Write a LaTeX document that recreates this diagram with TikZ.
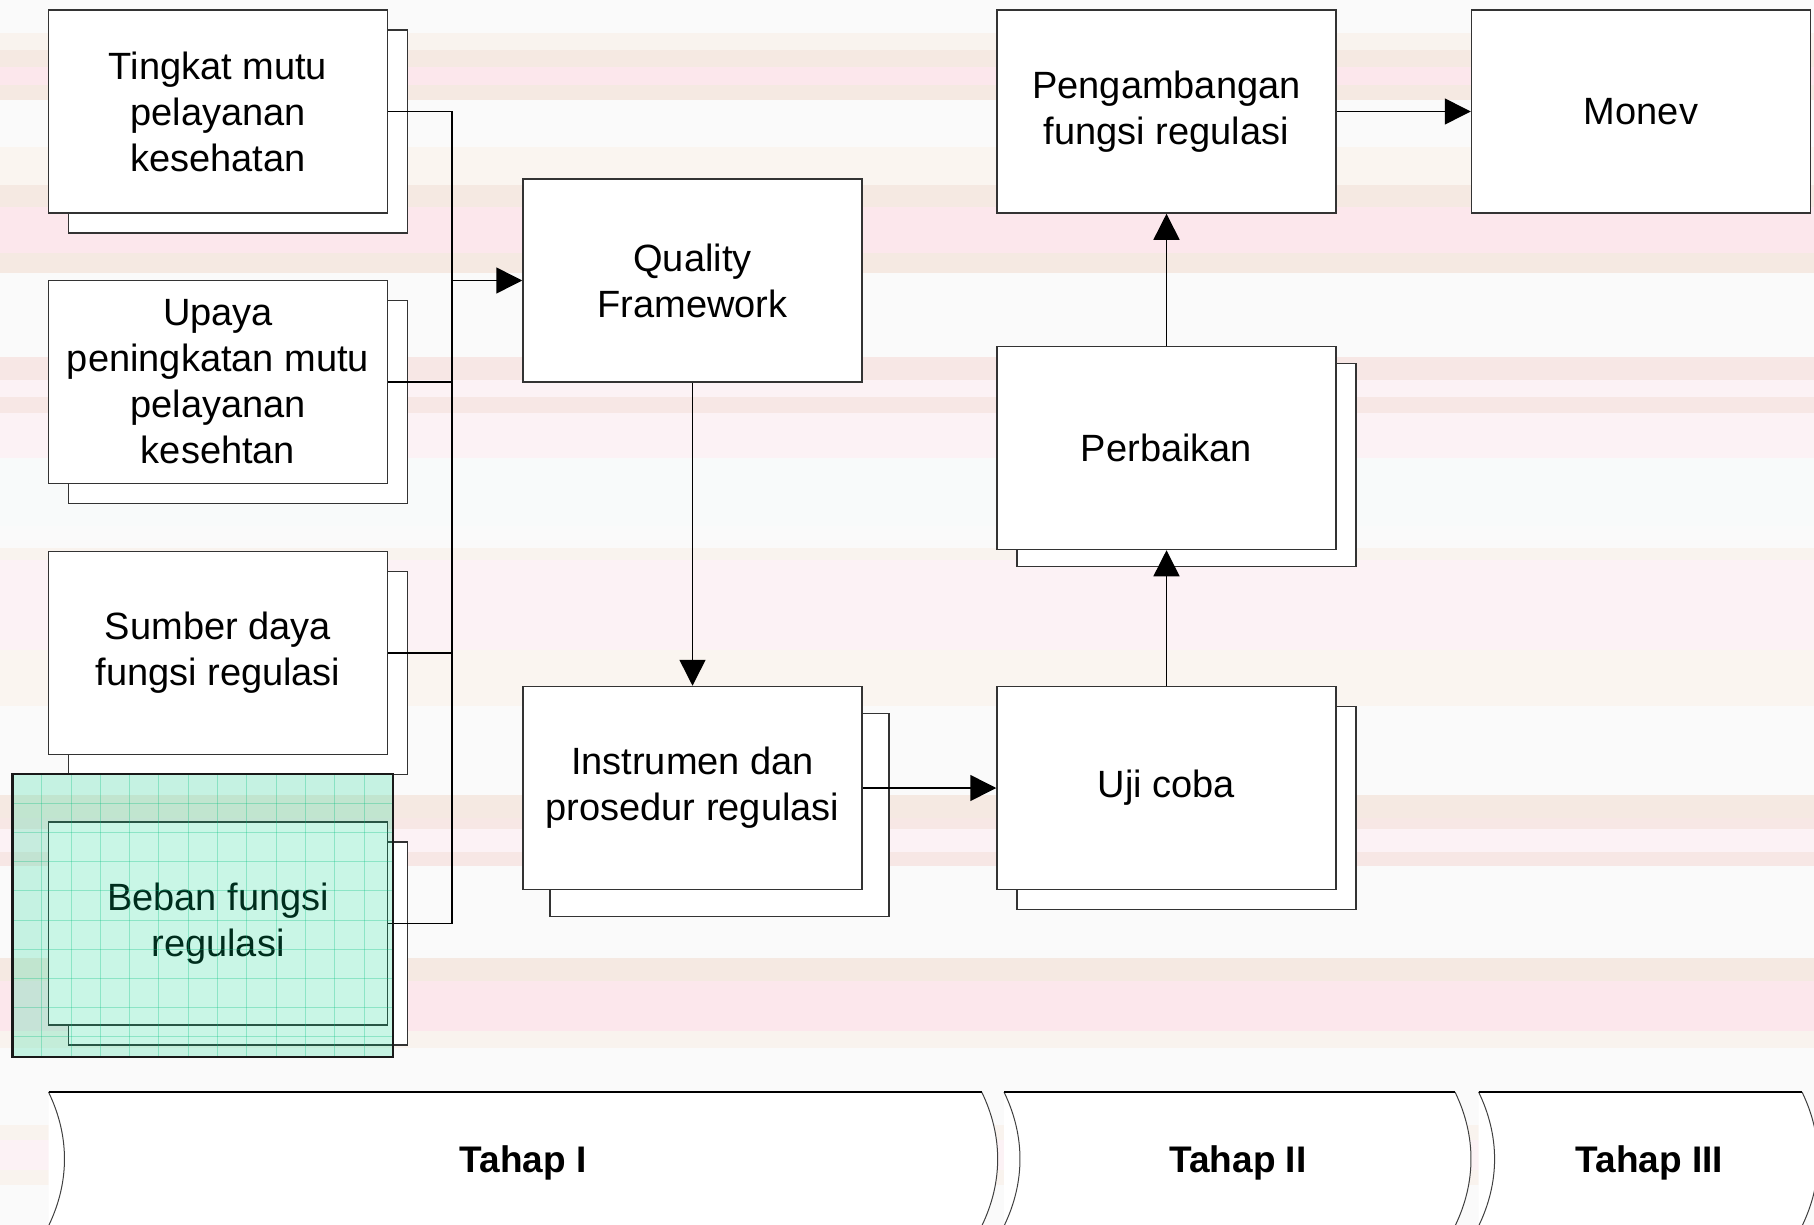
\documentclass[tikz,border=0pt]{standalone}
\usepackage{fontspec}
\setmainfont{Liberation Sans}
\usetikzlibrary{arrows.meta}
\definecolor{bgW}{HTML}{FAFAFA}
\definecolor{bgLB}{HTML}{F9F3EE}
\definecolor{bgB}{HTML}{F5E9E2}
\definecolor{bgP}{HTML}{FCE7EC}
\definecolor{bgLP}{HTML}{FCF2F5}
\definecolor{bgPR}{HTML}{F7E7E5}
\definecolor{bgC}{HTML}{F8FAFA}
\definecolor{bgVB}{HTML}{FAF5F0}
\definecolor{mint}{RGB}{0,215,140}
\definecolor{mintline}{RGB}{0,190,125}
\begin{document}
\begin{tikzpicture}[x=1pt,y=-1pt,
  box/.style={draw=black!80, line width=1.5pt, fill=white, minimum width=339pt,
    minimum height=203pt, inner sep=0pt, align=center,
    font=\fontsize{38}{46}\selectfont},
  shbox/.style={draw=black!80, line width=1.5pt, fill=white, minimum width=339pt,
    minimum height=203pt, inner sep=0pt},
  conn/.style={line width=1.5pt, draw=black},
  arr/.style={conn, -{Triangle[length=26pt,width=26pt]}},
  chev/.style={fill=white, draw=black!75, line width=1pt},
  tahap/.style={font=\fontsize{37}{44}\selectfont\bfseries, anchor=base}]
\useasboundingbox (0,0) rectangle (1814,1225);
\clip (0,0) rectangle (1814,1225);
% background bands
\fill[bgW] (0,0) rectangle (1814,1225);
\fill[bgLB] (0,33) rectangle (1814,50);
\fill[bgB] (0,50) rectangle (1814,67);
\fill[bgP] (0,67) rectangle (1814,85);
\fill[bgB] (0,85) rectangle (1814,100);
\fill[bgVB] (0,147) rectangle (1814,185);
\fill[bgB] (0,185) rectangle (1814,207);
\fill[bgP] (0,207) rectangle (1814,253);
\fill[bgB] (0,253) rectangle (1814,273);
\fill[bgPR] (0,357) rectangle (1814,380);
\fill[bgLP] (0,380) rectangle (1814,397);
\fill[bgPR] (0,397) rectangle (1814,413);
\fill[bgLP] (0,413) rectangle (1814,458);
\fill[bgC] (0,458) rectangle (1814,526);
\fill[bgLB] (0,548) rectangle (1814,560);
\fill[bgLP] (0,560) rectangle (1814,650);
\fill[bgVB] (0,650) rectangle (1814,706);
\fill[bgB] (0,795) rectangle (1814,818);
\fill[bgPR] (0,818) rectangle (1814,829);
\fill[bgLP] (0,829) rectangle (1814,852);
\fill[bgPR] (0,852) rectangle (1814,866);
\fill[bgB] (0,958) rectangle (1814,981);
\fill[bgP] (0,981) rectangle (1814,1031);
\fill[bgLB] (0,1031) rectangle (1814,1048);
\fill[bgLB] (0,1125) rectangle (1814,1140);
\fill[bgLP] (0,1140) rectangle (1814,1170);
\fill[bgLB] (0,1170) rectangle (1814,1185);

% left column boxes with shadows
\node[shbox] (s1) at (238,131.5) {};
\node[box] (b1) at (218,111.5) {Tingkat mutu\\pelayanan\\kesehatan};
\node[shbox] (s2) at (238,402) {};
\node[box] (b2) at (218,382) {Upaya\\peningkatan mutu\\pelayanan\\kesehtan};
\node[shbox] (s3) at (238,673) {};
\node[box] (b3) at (218,653) {Sumber daya\\fungsi regulasi};
\node[shbox] (s4) at (238,943.5) {};
\node[box] (b4) at (218,923.5) {Beban fungsi\\regulasi};

% middle
\node[box] (qf) at (692.5,280.5) {Quality\\Framework};
\node[shbox] (s5) at (719.5,815) {};
\node[box] (ins) at (692.5,788) {Instrumen dan\\prosedur regulasi};

% right
\node[shbox] (s6) at (1186.5,808) {};
\node[box] (uji) at (1166.5,788) {Uji coba};
\node[shbox] (s7) at (1186.5,465) {};
\node[box] (perb) at (1166.5,448) {Perbaikan};
\node[box] (peng) at (1166.5,111.5) {Pengambangan\\fungsi regulasi};
\node[box] (mon) at (1641,111.5) {Monev};

% connectors
\coordinate (j) at (452,280);
\draw[conn] (b1.east) -- (b1.east -| j) -- (b4.east -| j) -- (b4.east);
\draw[conn] (b2.east) -- (b2.east -| j);
\draw[conn] (b3.east) -- (b3.east -| j);
\draw[arr] (j |- qf.west) -- (qf.west);
\draw[arr] (qf.south) -- (ins.north);
\draw[arr] (ins.east) -- (uji.west);
\draw[arr] (uji.north) -- (perb.south);
\draw[arr] (perb.north) -- (peng.south);
\draw[arr] (peng.east) -- (mon.west);

% green highlight overlay
\fill[mint, fill opacity=0.21] (12.3,774) rectangle (393,1057);
\begin{scope}
\clip (12.3,774) rectangle (393,1057);
\foreach \i in {1,...,13} \draw[mintline, opacity=0.3, line width=0.8pt] (12.3+29.3*\i,774) -- ++(0,283);
\foreach \i in {1,...,9} \draw[mintline, opacity=0.3, line width=0.8pt] (12.3,774+29.2*\i) -- ++(380.7,0);
\end{scope}
\draw[line width=2.5pt, black!90] (12.3,774) rectangle (393,1057);

% stage chevrons
\fill[white] (48.5,1092) -- (981.7,1092) .. controls (1003,1136) and (1003,1182) .. (981.7,1226)
  -- (48.5,1226) .. controls (69.8,1182) and (69.8,1136) .. (48.5,1092) -- cycle;
\draw[chev] (981.7,1092) .. controls (1003,1136) and (1003,1182) .. (981.7,1226);
\draw[chev] (48.5,1226) .. controls (69.8,1182) and (69.8,1136) .. (48.5,1092);
\draw[line width=1.8pt, black] (48.5,1092) -- (981.7,1092);

\fill[white] (1004,1092) -- (1455,1092) .. controls (1476.3,1136) and (1476.3,1182) .. (1455,1226)
  -- (1004,1226) .. controls (1025.3,1182) and (1025.3,1136) .. (1004,1092) -- cycle;
\draw[chev] (1455,1092) .. controls (1476.3,1136) and (1476.3,1182) .. (1455,1226);
\draw[chev] (1004,1226) .. controls (1025.3,1182) and (1025.3,1136) .. (1004,1092);
\draw[line width=1.8pt, black] (1004,1092) -- (1455,1092);

\fill[white] (1478.6,1092) -- (1802,1092) .. controls (1823.3,1136) and (1823.3,1182) .. (1802,1226)
  -- (1478.6,1226) .. controls (1499.9,1182) and (1499.9,1136) .. (1478.6,1092) -- cycle;
\draw[chev] (1802,1092) .. controls (1823.3,1136) and (1823.3,1182) .. (1802,1226);
\draw[chev] (1478.6,1226) .. controls (1499.9,1182) and (1499.9,1136) .. (1478.6,1092);
\draw[line width=1.8pt, black] (1478.6,1092) -- (1802,1092);

\node[tahap] (t1) at (523,1172) {Tahap I};
\node[tahap] (t2) at (1238,1172) {Tahap II};
\node[tahap] (t3) at (1649.5,1172) {Tahap III};
\end{tikzpicture}
\end{document}
